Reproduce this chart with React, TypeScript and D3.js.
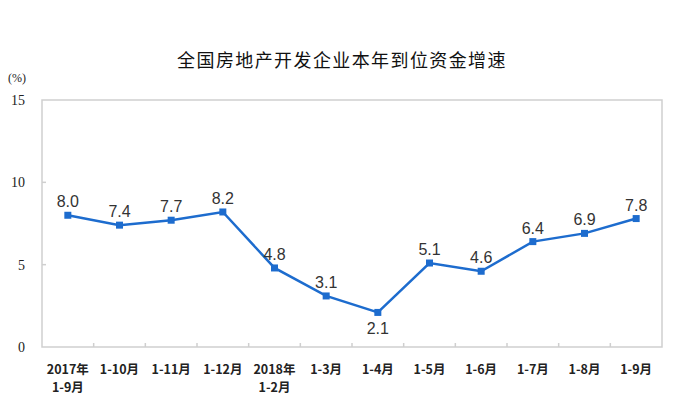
import React from "react";
import * as d3 from "d3";

const categories = [
  ["2017年", "1-9月"],
  ["1-10月"],
  ["1-11月"],
  ["1-12月"],
  ["2018年", "1-2月"],
  ["1-3月"],
  ["1-4月"],
  ["1-5月"],
  ["1-6月"],
  ["1-7月"],
  ["1-8月"],
  ["1-9月"],
];
const values = [8.0, 7.4, 7.7, 8.2, 4.8, 3.1, 2.1, 5.1, 4.6, 6.4, 6.9, 7.8];
const yTicks = [0, 5, 10, 15];
const title = "全国房地产开发企业本年到位资金增速";

export default function App() {
  const W = 692, H = 413;
  const left = 42, right = 662, top = 100, bottom = 347;
  const x = d3.scaleBand<number>().domain(d3.range(values.length)).range([left, right]);
  const y = d3.scaleLinear().domain([0, 15]).range([bottom, top]);
  const line = d3.line<number>().x((_, i) => x(i)! + x.bandwidth() / 2).y((d) => y(d));
  const blue = "#1d6cce";
  return (
    <svg width={W} height={H} style={{ position: "absolute", left: 0, top: 0 }}>
      <rect width={W} height={H} fill="#fff" />
      <text x={342} y={67} textAnchor="middle" fontFamily="Noto Sans CJK SC" fontSize={18} letterSpacing={1.4} fill="#111">{title}</text>
      <text x={8} y={82} fontFamily="Liberation Serif" fontSize={12} fill="#222">(%)</text>
      <rect x={left} y={top} width={right - left} height={bottom - top} fill="none" stroke="#cfcfcf" strokeWidth={1.5} />
      {yTicks.map((t) => (
        <g key={t}>
          <text x={25} y={y(t) + 5} textAnchor="end" fontFamily="Liberation Serif" fontSize={14} fill="#222">{t}</text>
          {t > 0 && t < 15 && <line x1={left} x2={left + 4} y1={y(t)} y2={y(t)} stroke="#cfcfcf" strokeWidth={1.5} />}
        </g>
      ))}
      {d3.range(1, values.length).map((i) => (
        <line key={i} x1={x(i)!} x2={x(i)!} y1={bottom} y2={bottom - 4} stroke="#cfcfcf" strokeWidth={1.5} />
      ))}
      {categories.map((c, i) =>
        c.map((s, j) => (
          <text key={i + "-" + j} x={x(i)! + x.bandwidth() / 2} y={374 + j * 18} textAnchor="middle" fontFamily="Noto Sans CJK SC" fontSize={12.5} fontWeight="bold" fill="#222">{s}</text>
        ))
      )}
      <path d={line(values)!} fill="none" stroke={blue} strokeWidth={2.5} />
      {values.map((v, i) => {
        const cx = x(i)! + x.bandwidth() / 2, cy = y(v);
        const below = i === 6;
        return (
          <g key={i}>
            <rect x={cx - 3.5} y={cy - 3.5} width={7} height={7} fill={blue} />
            <text x={cx} y={below ? cy + 22 : cy - 8} textAnchor="middle" fontFamily="Liberation Sans" fontSize={16} fill="#333">{v.toFixed(1)}</text>
          </g>
        );
      })}
    </svg>
  );
}
